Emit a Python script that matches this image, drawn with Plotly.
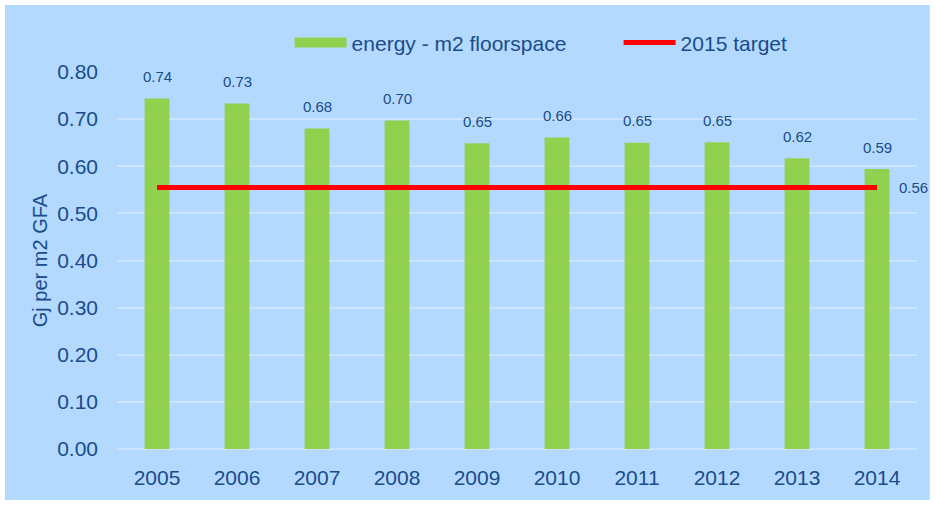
import plotly.graph_objects as go

# data
years = [2005, 2006, 2007, 2008, 2009, 2010, 2011, 2012, 2013, 2014]
energy_m2 = [0.744, 0.733, 0.680, 0.697, 0.649, 0.661, 0.650, 0.651, 0.617, 0.594]
target_2015 = [0.555] * len(years)
y_ticks = [0.0, 0.1, 0.2, 0.3, 0.4, 0.5, 0.6, 0.7, 0.8]

text_col = "#1A4C8A"
bg_col = "#B3D9FF"
grid_col = "#CBE5FF"
green = "#92D050"

fig = go.Figure()

fig.add_trace(go.Bar(
    x=years, y=energy_m2, name="energy - m2 floorspace",
    marker=dict(color=green, line=dict(width=0)),
    width=0.31, showlegend=False,
))
# legend entry for the bars drawn as a wide flat swatch, like the original
fig.add_trace(go.Scatter(
    x=[None], y=[None], mode="lines", name="energy - m2 floorspace",
    line=dict(color=green, width=12),
))
fig.add_trace(go.Scatter(
    x=years, y=target_2015, mode="lines", name="2015 target",
    line=dict(color="#FF0000", width=5),
))

# data labels above the bars
for yr, v in zip(years, energy_m2):
    fig.add_annotation(
        x=yr, y=v, text=f"{v:.2f}", showarrow=False,
        yanchor="middle", yshift=22,
        font=dict(size=15, color=text_col),
    )
# label at the end of the target line
fig.add_annotation(
    x=years[-1], y=target_2015[-1], text=f"{target_2015[-1]:.2f}", showarrow=False,
    xanchor="left", xshift=20, yanchor="middle",
    font=dict(size=15, color=text_col),
)

# light blue chart area inside a thin white border
fig.add_shape(
    type="rect", xref="paper", yref="paper",
    x0=-0.14, x1=1.016, y0=-0.135, y1=1.178,
    fillcolor=bg_col, line=dict(width=0), layer="below",
)

fig.update_layout(
    width=936, height=506,
    paper_bgcolor="white",
    plot_bgcolor=bg_col,
    font=dict(family="Liberation Sans, Arial, sans-serif", color=text_col, size=20),
    margin=dict(l=117, r=19, t=72, b=57, autoexpand=False),
    showlegend=True,
    legend=dict(
        orientation="h", x=0.627, xanchor="center", y=1.077, yanchor="middle",
        bgcolor="rgba(0,0,0,0)", font=dict(size=21, color=text_col),
        traceorder="normal", itemwidth=52,
        entrywidth=262, entrywidthmode="pixels",
    ),
)
fig.update_xaxes(
    range=[2004.5, 2014.5], tickvals=years, showgrid=False, showline=False,
    zeroline=False, ticks="", tickfont=dict(size=21, color=text_col),
    ticklabelstandoff=14,
)
fig.update_yaxes(
    range=[0, 0.8], tickvals=y_ticks, tickformat=".2f",
    showgrid=True, gridcolor=grid_col, gridwidth=1.5,
    zeroline=True, zerolinecolor=grid_col, zerolinewidth=1.5,
    showline=False, ticks="", tickfont=dict(size=21, color=text_col),
    ticklabelstandoff=18,
    title=dict(text="Gj per m2 GFA", font=dict(size=20, color=text_col), standoff=4),
)

# the page's default body margin would push the figure 8px off its place
fig.write_html("out.html", config={"displayModeBar": False},
               post_script="document.body.style.margin='0';")
